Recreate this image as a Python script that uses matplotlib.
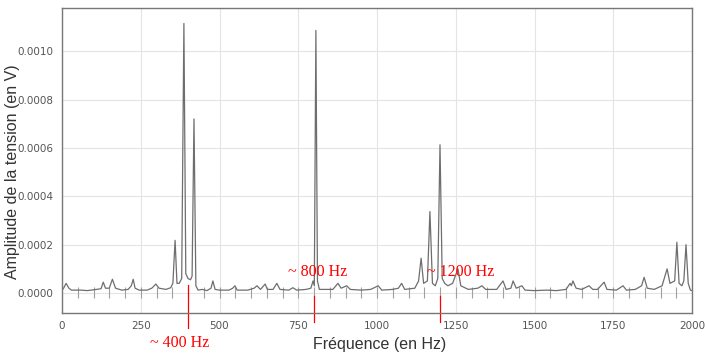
import numpy as np
import matplotlib
matplotlib.use('Agg')
import matplotlib.pyplot as plt
import matplotlib.transforms as mtransforms

#%%
"""Spectre lu sur l'image"""
freq = [0, 5, 13, 22, 30, 60, 80, 110, 124, 131, 138, 150, 160, 170, 190,
        210, 220, 226, 232, 245, 270, 285, 298, 308, 330, 345, 352, 359, 365,
        372, 380, 387, 393, 400, 408, 413, 419, 425, 432, 445, 460, 473, 479,
        486, 500, 530, 542, 549, 556, 590, 610, 619, 630, 645, 652, 670, 682,
        692, 720, 733, 745, 775, 790, 797, 801, 806, 811, 817, 840, 860, 876,
        886, 904, 915, 950, 980, 1004, 1015, 1050, 1068, 1078, 1088, 1120,
        1132, 1140, 1148, 1160, 1168, 1176, 1185, 1193, 1200, 1207, 1215,
        1225, 1240, 1257, 1266, 1290, 1320, 1333, 1345, 1380, 1400, 1410,
        1425, 1432, 1442, 1460, 1470, 1500, 1540, 1570, 1600, 1613, 1617,
        1622, 1632, 1650, 1673, 1685, 1700, 1721, 1730, 1760, 1781, 1792,
        1820, 1840, 1848, 1858, 1880, 1905, 1921, 1930, 1945, 1952, 1959,
        1968, 1974, 1981, 1988, 1995, 2000]
amp = [12, 20, 40, 20, 12, 12, 10, 15, 18, 45, 20, 20, 57, 20, 12,
       15, 30, 57, 20, 12, 12, 20, 37, 20, 15, 22, 40, 218, 40,
       40, 60, 1115, 80, 60, 55, 70, 720, 30, 12, 15, 10, 20, 50,
       15, 12, 12, 20, 30, 12, 12, 20, 30, 15, 37, 15, 15, 40,
       15, 12, 22, 12, 15, 20, 50, 30, 1086, 50, 15, 15, 15, 40,
       20, 30, 15, 12, 15, 30, 12, 15, 20, 40, 15, 20,
       50, 144, 40, 50, 337, 40, 30, 60, 613, 60, 40,
       30, 40, 100, 30, 15, 20, 30, 15, 15, 50, 15,
       20, 50, 20, 30, 12, 10, 12, 10, 15, 40, 30,
       50, 20, 15, 30, 15, 15, 45, 15, 12, 30, 12,
       15, 30, 65, 20, 15, 30, 100, 40, 50, 210, 40,
       30, 50, 200, 40, 12, 10]
amp = np.array(amp) * 1e-6  # en V

# petits traits verticaux tous les 50 Hz
notch_freqs = np.arange(50, 2000, 50)

annot_freqs = [400, 800, 1200]
annot_labels = ['~ 400 Hz', '~ 800 Hz', '~ 1200 Hz']

#%%
"""Plotting"""
fig = plt.figure(figsize=(7.05, 3.6), dpi=100)
ax = fig.add_axes([62/705, 47/360, 630/705, 305/360])

ax.grid(True, color='#e4e4e4', lw=0.8)
ax.set_axisbelow(True)

ax.vlines(notch_freqs, -0.00002, 0.000024, color='#a0a0a0', lw=0.8)
ax.plot(freq, amp, color='#6e6e6e', lw=0.9)

ax.set_xlim(0, 2000)
ax.set_ylim(-0.0000826, 0.001179)
ax.set_xticks([0, 250, 500, 750, 1000, 1250, 1500, 1750, 2000])
ax.set_yticks([0, 0.0002, 0.0004, 0.0006, 0.0008, 0.0010])
ax.set_yticklabels(['%.4f' % v for v in ax.get_yticks()])
ax.tick_params(length=0, pad=6, labelsize=7.5, labelcolor='#555555')
for s in ax.spines.values():
    s.set_color('#777777')
    s.set_linewidth(1.0)

ax.set_xlabel('Fréquence (en Hz)', fontsize=11.5, color='#333333',
              family='Liberation Sans', va='center')
ax.set_ylabel('Amplitude de la tension (en V)', fontsize=11.5, color='#333333',
              family='Liberation Sans', va='center')
ax.xaxis.set_label_coords(0.504, -0.102)
ax.yaxis.set_label_coords(-0.079, 0.462)

# annotations en rouge
trans = mtransforms.blended_transform_factory(ax.transData, ax.transAxes)
ax.plot([annot_freqs[0]] * 2, [0.092, -0.049], color='red', lw=0.9,
        transform=trans, clip_on=False)
for f in annot_freqs[1:]:
    ax.plot([f] * 2, [0.056, -0.030], color='red', lw=0.9,
            transform=trans, clip_on=False)

fig.text(150/705, 1 - 343/360, annot_labels[0], color='red', fontsize=11.5,
         family='Liberation Serif', ha='left', va='center')
fig.text(288/705, 1 - 272/360, annot_labels[1], color='red', fontsize=11.5,
         family='Liberation Serif', ha='left', va='center')
fig.text(427/705, 1 - 272/360, annot_labels[2], color='red', fontsize=11.5,
         family='Liberation Serif', ha='left', va='center')

fig.savefig('out.png', dpi=100, facecolor='white')
